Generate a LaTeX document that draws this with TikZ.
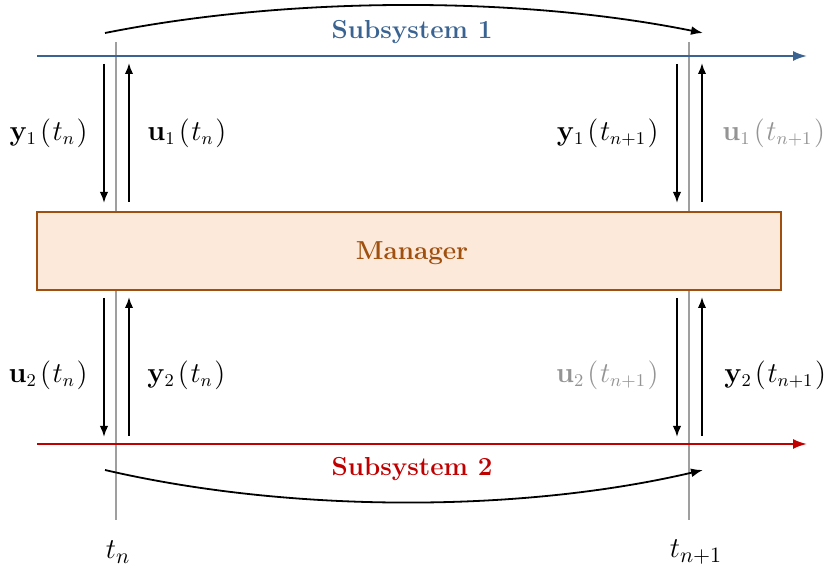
\documentclass[tikz,border=0pt]{standalone}
\usepackage{amsmath, amssymb}
\usepackage{tikz}
\usetikzlibrary{arrows.meta}

\definecolor{subone}{RGB}{58,99,145}
\definecolor{subtwo}{RGB}{192,0,0}
\definecolor{mgrdraw}{RGB}{160,80,14}
\definecolor{mgrfill}{RGB}{253,233,218}
\definecolor{pending}{gray}{0.58}

% signal at a time instant, with a little air round the brackets
\newcommand{\sig}[3]{\mathbf{#1}_{#2}\mkern2mu(\mkern1mu #3\mkern1mu)}

\begin{document}
\begin{tikzpicture}[x=0.5pt, y=-0.5pt,
    every node/.style={font=\fontsize{13.5}{16}\selectfont, inner sep=0pt},
    timeline/.style={line width=1pt, -{Latex[length=7pt,width=5pt]}},
    instant/.style={draw=pending!90, line width=1pt},
    xfer/.style={line width=0.9pt, -{Latex[length=5.5pt,width=4.2pt]}},
    hop/.style={line width=0.9pt, -{Latex[length=6pt,width=4.4pt]}},
    title/.style={font=\fontsize{13}{15}\selectfont\bfseries},
    stamp/.style={font=\fontsize{15}{17}\selectfont}]
        \useasboundingbox (0,0) rectangle (826,577);
        % time instants, behind the manager box
        \coordinate (tn top) at (116,42);
        \coordinate (tn bot) at (116,520);
        \coordinate (tm top) at (689,42);
        \coordinate (tm bot) at (689,520);
        \draw[instant] (tn top) -- (tn bot);
        \draw[instant] (tm top) -- (tm bot);
        \node[stamp] (tn) at (118,552) {$t_n$};
        \node[stamp] (tm) at (696,552) {$t_{n+1}$};
        % subsystem time axes
        \coordinate (s1 start) at (37,56);
        \coordinate (s1 end) at (807,56);
        \coordinate (s2 start) at (37,444);
        \coordinate (s2 end) at (807,444);
        \draw[timeline, subone] (s1 start) -- (s1 end);
        \draw[timeline, subtwo] (s2 start) -- (s2 end);
        \node[title, text=subone] (sub1) at (412,32) {Subsystem 1};
        \node[title, text=subtwo] (sub2) at (412,469) {Subsystem 2};
        % manager
        \node[draw=mgrdraw, fill=mgrfill, line width=1pt,
              minimum width=372pt, minimum height=39pt] (mgr) at (409,251) {};
        \node[title, text=mgrdraw] (mgrtext) at (412,253) {Manager};
        % step from t_n to t_{n+1}
        \coordinate (a1) at (105,33);
        \coordinate (b1) at (703,33);
        \coordinate (a2) at (105,470);
        \coordinate (b2) at (703,470);
        \draw[hop] (a1) .. controls (290,-4) and (520,-4) .. (b1);
        \draw[hop] (a2) .. controls (290,513) and (520,513) .. (b2);
        % exchange arrows at both instants
        \foreach \x in {104,677} {
          \draw[xfer] (\x,64) -- (\x,203);
          \draw[xfer] (\x+25,202) -- (\x+25,63);
          \draw[xfer] (\x,298) -- (\x,437);
          \draw[xfer] (\x+25,436) -- (\x+25,297);
        }
        % subsystem 1 signals
        \node[anchor=east] (y1n) at (88,133) {$\sig{y}{1}{t_n}$};
        \node[anchor=west] (u1n) at (147,133) {$\sig{u}{1}{t_n}$};
        \node[anchor=east] (y1m) at (659,133) {$\sig{y}{1}{t_{n+1}}$};
        \node[anchor=west, text=pending] (u1m) at (722,133) {$\sig{u}{1}{t_{n+1}}$};
        % subsystem 2 signals
        \node[anchor=east] (u2n) at (88,375) {$\sig{u}{2}{t_n}$};
        \node[anchor=west] (y2n) at (147,375) {$\sig{y}{2}{t_n}$};
        \node[anchor=east, text=pending] (u2m) at (659,375) {$\sig{u}{2}{t_{n+1}}$};
        \node[anchor=west] (y2m) at (724,375) {$\sig{y}{2}{t_{n+1}}$};
\end{tikzpicture}
\end{document}
